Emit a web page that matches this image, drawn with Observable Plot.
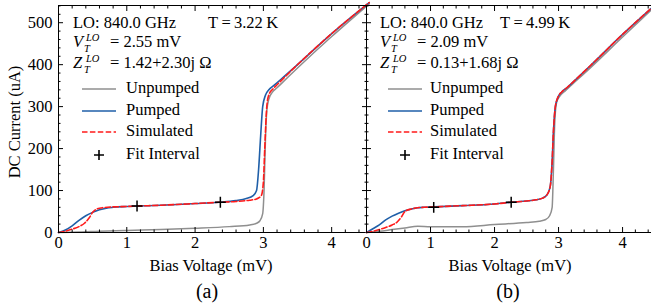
<!DOCTYPE html>
<html><head><meta charset="utf-8">
<script src="https://cdn.jsdelivr.net/npm/d3@7"></script>
<script src="https://cdn.jsdelivr.net/npm/@observablehq/plot@0.6"></script>
<style>
body{margin:0;background:#fff;overflow:hidden;}
#wrap{position:relative;width:651px;height:307px;overflow:hidden;font-family:"Liberation Serif","DejaVu Serif",serif;color:#000;}
.abs{position:absolute;white-space:nowrap;line-height:1;}
</style></head><body><div id="wrap"></div>
<script>
// ---------- data: panel (a), T = 3.22 K ----------
const aUnpV = [0,0.3,0.6,1.0,1.5,2.0,2.5,2.8,2.9,2.95,2.99,3.01,3.03,3.05,3.08,3.13,3.2,3.5,4.0,4.55];
const aUnpI = [0,1,3,5,7,10,14,18,22,28,45,100,220,290,318,334,345,392,467,545];
const aPumpV = [0,0.1,0.2,0.3,0.4,0.5,0.6,0.7,0.8,1.0,1.15,1.5,2.0,2.35,2.6,2.75,2.85,2.9,2.93,2.96,2.99,3.03,3.08,3.15,3.25,3.5,4.0,4.55];
const aPumpI = [0,6,16,29,40,48,54,58,60,62,63,65,69,72,76,81,88,100,150,230,300,327,340,350,364,400,474,548];
const aSimV = [0,0.1,0.2,0.3,0.38,0.45,0.5,0.55,0.6,0.8,1.0,1.15,1.5,2.0,2.35,2.6,2.8,2.9,2.97,3.0,3.02,3.05,3.08,3.14,3.2,3.5,4.0,4.55];
const aSimI = [0,3,8,14,22,35,48,55,58,61,62,63,65,69,72,74,77,80,88,120,200,300,328,342,352,400,474,548];
const aFitV = [1.15,2.37];
const aFitI = [63,72];
// ---------- data: panel (b), T = 4.99 K ----------
const bUnpV = [0,0.2,0.4,0.6,0.8,1.0,1.5,2.0,2.5,2.7,2.8,2.86,2.9,2.92,2.94,2.97,3.02,3.1,3.2,3.5,4.0,4.55];
const bUnpI = [0,3,7,11,15,14,14,19,24,27,31,40,60,150,260,310,325,337,351,393,466,545];
const bPumpV = [0,0.1,0.2,0.3,0.4,0.5,0.6,0.7,0.8,0.9,1.05,1.5,2.0,2.26,2.5,2.65,2.75,2.82,2.87,2.9,2.92,2.95,2.99,3.05,3.13,3.25,3.5,4.0,4.55];
const bPumpI = [0,9,18,30,39,46,52,56,59,60,61,64,68,72,75,78,82,90,110,170,240,300,322,335,345,362,398,472,548];
const bSimV = [0,0.1,0.2,0.3,0.4,0.48,0.55,0.6,0.7,0.8,0.9,1.05,1.5,2.0,2.26,2.5,2.65,2.75,2.82,2.87,2.9,2.92,2.95,2.99,3.05,3.13,3.25,3.5,4.0,4.55];
const bSimI = [0,3,7,12,18,25,38,50,56,59,60,61,64,68,72,75,78,82,90,110,170,240,300,322,335,345,362,398,472,548];
const bFitV = [1.05,2.26];
const bFitI = [60,72];
// ---------- ticks / text ----------
const xMajor = [0,1,2,3,4];
const xMinor = d3.range(0,46).map(i=>i/10).filter(v=>Math.round(v*10)%2===0 && Math.round(v*10)%10!==0);
const yMajor = [0,100,200,300,400,500];
const yMinor = d3.range(0,541,20).filter(v=>v%100!==0);
const seriesNames = ["Unpumped","Pumped","Simulated","Fit Interval"];
const colors = {Unpumped:"#8f8f8f", Pumped:"#1f5fa8", Simulated:"#ff1a1a"};
const FONT = '"Liberation Serif", "DejaVu Serif", serif';

const zip = (V,I) => V.map((v,i)=>({v, i:I[i]}));

function panel({width, marginLeft, xmax, unp, pump, sim, fit, labels}) {
  const marks = [
    Plot.line(unp, {x:"v", y:"i", stroke:colors.Unpumped, strokeWidth:1.5, curve:"monotone-x"}),
    Plot.line(pump, {x:"v", y:"i", stroke:colors.Pumped, strokeWidth:1.6, curve:"monotone-x"}),
    Plot.line(sim, {x:"v", y:"i", stroke:colors.Simulated, strokeWidth:1.6, strokeDasharray:"5.5,2.4", curve:"monotone-x"}),
    Plot.dot(fit, {x:"v", y:"i", symbol:"plus", r:3.6, stroke:"#000", strokeWidth:1.5}),
    Plot.frame({stroke:"#000", strokeWidth:1}),
  ];
  for (const anchor of ["bottom","top"]) {
    marks.push(Plot.axisX(xMajor, {anchor, tickSize:-5, fill:"none", label:null}));
    marks.push(Plot.axisX(xMinor, {anchor, tickSize:-2.5, fill:"none", label:null}));
  }
  for (const anchor of ["left","right"]) {
    marks.push(Plot.axisY(yMajor, {anchor, tickSize:-5, fill:"none", label:null}));
    marks.push(Plot.axisY(yMinor, {anchor, tickSize:-2.5, fill:"none", label:null}));
  }
  marks.push(Plot.axisX(xMajor, {anchor:"bottom", tickSize:0, tickPadding:4, stroke:"none", label:null, fontSize:16.5}));
  if (labels) marks.push(Plot.axisY(yMajor, {anchor:"left", tickSize:0, tickPadding:6, stroke:"none", label:null, fontSize:16.5}));
  const svg = Plot.plot({
    width, height:307,
    marginLeft, marginRight:0, marginTop:5, marginBottom:75,
    x:{domain:[0,xmax]},
    y:{domain:[0,541]},
    style:{fontFamily:FONT, fontSize:"16.5px", color:"#000", background:"transparent", overflow:"visible"},
    marks
  });
  svg.style.position = "absolute";
  svg.style.top = "0px";
  return svg;
}

const wrap = document.getElementById("wrap");
const pa = panel({width:366, marginLeft:58, xmax:4.51, unp:zip(aUnpV,aUnpI), pump:zip(aPumpV,aPumpI), sim:zip(aSimV,aSimI), fit:zip(aFitV,aFitI), labels:true});
pa.style.left = "0px";
const pb = panel({width:290, marginLeft:0, xmax:4.53, unp:zip(bUnpV,bUnpI), pump:zip(bPumpV,bPumpI), sim:zip(bSimV,bSimI), fit:zip(bFitV,bFitI), labels:false});
pb.style.left = "366px";
wrap.appendChild(pa); wrap.appendChild(pb);

function txt(html, x, y, size=16.5, extra="") {
  const d = document.createElement("div");
  d.className = "abs";
  d.style.cssText += `left:${x}px;top:${y}px;font-size:${size}px;${extra}`;
  d.innerHTML = html;
  wrap.appendChild(d);
  return d;
}
function sym(letter, x, y, rest) {
  txt(`<i>${letter}</i>`, x, y);
  txt(`<i>LO</i>`, x+13, y-1, 10.5);
  txt(`<i>T</i>`, x+11, y+9.5, 10.5);
  txt(rest, x+37, y);
}
function legend(x0, lt, y0) {
  const rows = [[seriesNames[0],"Unpumped"],[seriesNames[1],"Pumped"],[seriesNames[2],"Simulated"]];
  rows.forEach(([name,key],k)=>{
    const y = y0 + k*21.5;
    const dash = key==="Simulated" ? 'stroke-dasharray="5.5,2.4"' : '';
    txt(`<svg width="34" height="4" style="display:block"><line x1="0" y1="2" x2="34" y2="2" stroke="${colors[key]}" stroke-width="1.6" ${dash}/></svg>`, x0, y-2);
    txt(name, lt, y-9);
  });
  const y = y0 + 3*21.5 + 1;
  txt(`<svg width="10" height="10" style="display:block"><path d="M5 0V10M0 5H10" stroke="#000" stroke-width="1.6"/></svg>`, x0+12, y-5);
  txt(seriesNames[3], lt, y-9);
}
// panel (a) annotations
txt("LO: 840.0 GHz", 73, 15);
txt("T\u2009=\u20093.22\u2009K", 208, 15);
sym("V", 73, 34, "= 2.55 mV");
sym("Z", 73, 55, "= 1.42+2.30j Ω");
legend(82, 126, 89);
// panel (b) annotations
txt("LO: 840.0 GHz", 380, 15);
txt("T\u2009=\u20094.99\u2009K", 500, 15);
sym("V", 380, 34, "= 2.09 mV");
sym("Z", 380, 55, "= 0.13+1.68j Ω");
legend(388, 430, 89);
// axis titles
txt("Bias Voltage (mV)", 211, 258, 16.5, "transform:translateX(-50%);");
txt("Bias Voltage (mV)", 510, 258, 16.5, "transform:translateX(-50%);");
txt("(a)", 207, 281, 20, "transform:translateX(-50%);");
txt("(b)", 508, 281, 20, "transform:translateX(-50%);");
txt("DC Current (uA)", 15, 122, 16.5, "transform:translate(-50%,-50%) rotate(-90deg);");
</script></body></html>
